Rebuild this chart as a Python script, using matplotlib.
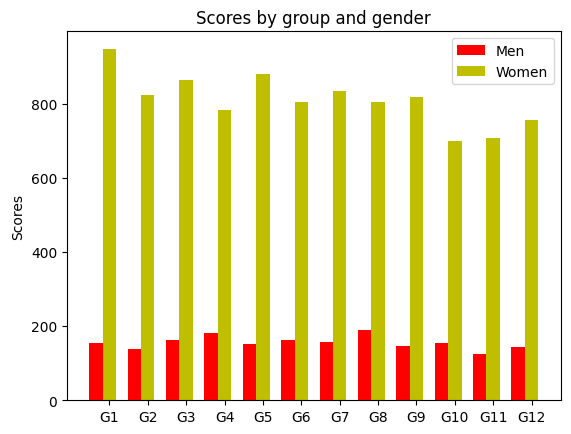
import matplotlib
matplotlib.use("Agg")
import matplotlib.pyplot as plt
import numpy as np

groups = ['G1', 'G2', 'G3', 'G4', 'G5', 'G6', 'G7', 'G8', 'G9', 'G10', 'G11', 'G12']
men = [154, 137, 162, 181, 151, 162, 156, 189, 146, 154, 124, 143]
women = [948, 822, 865, 784, 881, 803, 835, 803, 819, 698, 706, 755]

ind = np.arange(len(groups))
width = 0.35

fig, ax = plt.subplots(figsize=(5.71, 4.35), dpi=100)
fig.subplots_adjust(left=0.117, right=0.982, top=0.926, bottom=0.078)
ax.bar(ind, men, width, color='r', label='Men')
ax.bar(ind + width, women, width, color='y', label='Women')

ax.set_ylabel('Scores')
ax.set_title('Scores by group and gender')
ax.set_xticks(ind + width)
ax.set_xticklabels(groups)
ax.legend()

fig.savefig('out.png')
